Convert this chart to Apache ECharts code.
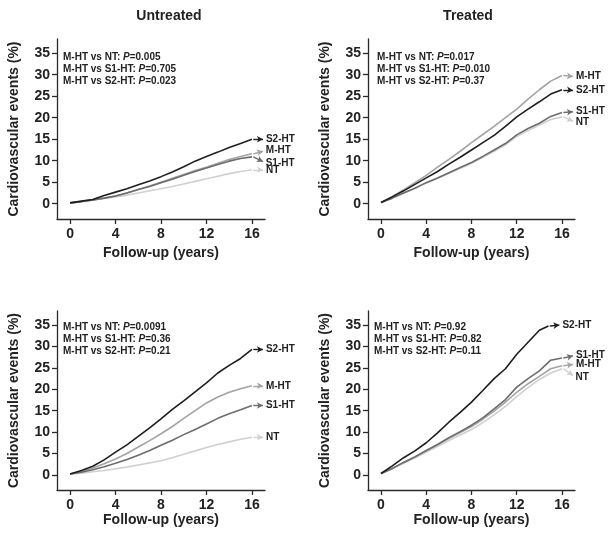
<!DOCTYPE html>
<html>
<head>
<meta charset="utf-8">
<script src="https://cdn.jsdelivr.net/npm/echarts@6/dist/echarts.min.js"></script>
<style>html,body{margin:0;padding:0;background:#fff}#c{width:610px;height:540px}</style>
</head>
<body>
<div id="c"></div>
<script>
// ---------- DATA ----------
const years = [0,1,2,3,4,5,6,7,8,9,10,11,12,13,14,15,16];
const seriesNames = ['NT','M-HT','S1-HT','S2-HT'];
const panelTitles = ['Untreated','Treated'];
const yTicks = [0,5,10,15,20,25,30,35];
const xTicks = [0,4,8,12,16];

// Top-left: Untreated (panel A)
const tlNT  = [0.2,0.4,0.8,1.2,1.6,2.0,2.5,3.0,3.5,4.0,4.6,5.2,5.8,6.4,7.0,7.5,7.9];
const tlMHT = [0.2,0.5,0.9,1.3,1.8,2.5,3.3,4.1,5.0,5.9,6.8,7.7,8.5,9.4,10.3,11.0,11.6];
const tlS1  = [0.2,0.5,0.9,1.3,1.8,2.5,3.3,4.0,4.9,5.7,6.6,7.5,8.3,9.1,9.9,10.5,10.9];
const tlS2  = [0.2,0.6,1.0,1.9,2.7,3.5,4.4,5.3,6.3,7.4,8.6,9.9,11.0,12.0,13.1,14.0,15.0];

// Top-right: Treated (panel A)
const trNT  = [0.3,1.3,2.5,3.6,4.8,5.9,7.0,8.2,9.4,10.8,12.2,13.7,15.6,17.0,18.3,19.6,20.2];
const trMHT = [0.3,1.7,3.2,4.9,6.6,8.5,10.3,12.2,14.2,16.1,18.0,20.0,22.0,24.3,26.5,28.5,29.8];
const trS1  = [0.3,1.3,2.5,3.6,4.9,6.0,7.2,8.4,9.6,11.0,12.5,14.0,16.0,17.5,18.7,20.3,21.2];
const trS2  = [0.3,1.6,3.0,4.5,6.0,7.5,9.2,10.8,12.5,14.2,15.9,18.0,20.2,22.0,23.7,25.5,26.5];

// Bottom-left: Untreated (panel B)
const blNT  = [0.2,0.4,0.7,1.0,1.4,1.8,2.3,2.8,3.3,4.0,4.8,5.6,6.4,7.1,7.7,8.3,8.8];
const blMHT = [0.2,0.8,1.6,2.6,3.7,5.0,6.5,8.0,9.6,11.3,13.2,15.0,16.8,18.2,19.3,20.1,20.8];
const blS1  = [0.2,0.6,1.2,1.9,2.7,3.6,4.6,5.7,6.9,8.1,9.4,10.6,11.9,13.2,14.3,15.2,16.2];
const blS2  = [0.2,1.0,2.0,3.5,5.3,7.0,9.0,11.0,13.1,15.3,17.3,19.4,21.5,23.8,25.6,27.2,29.3];

// Bottom-right: Treated (panel B)
const brNT  = [0.3,1.4,2.7,3.9,5.3,6.6,8.0,9.3,10.6,12.2,14.0,16.0,18.3,20.4,22.3,23.8,24.8];
const brMHT = [0.3,1.5,2.9,4.2,5.6,7.0,8.5,9.9,11.3,13.0,14.9,17.0,19.3,21.3,23.0,24.8,25.5];
const brS1  = [0.3,1.5,2.9,4.2,5.7,7.1,8.7,10.1,11.6,13.3,15.4,17.6,20.5,22.5,24.3,26.8,27.3];
const brS2years = [0,1,2,3,4,5,6,7,8,9,10,11,12,13,14,14.8];
const brS2  = [0.3,2.1,4.0,5.6,7.5,9.8,12.3,14.6,17.0,19.7,22.5,24.8,28.2,31.0,33.8,34.8];

const pvals = [
  ['M-HT vs NT: ','0.005','M-HT vs S1-HT: ','0.705','M-HT vs S2-HT: ','0.023'],
  ['M-HT vs NT: ','0.017','M-HT vs S1-HT: ','0.010','M-HT vs S2-HT: ','0.37'],
  ['M-HT vs NT: ','0.0091','M-HT vs S1-HT: ','0.36','M-HT vs S2-HT: ','0.21'],
  ['M-HT vs NT: ','0.92','M-HT vs S1-HT: ','0.82','M-HT vs S2-HT: ','0.11']
];

// ---------- LAYOUT / STYLE ----------
const colors = {'NT':'#d0d0d0','M-HT':'#a3a3a3','S1-HT':'#6c6c6c','S2-HT':'#1e1e1e'};
const panels = [
  {grid:{left:57,top:39,width:208,height:180}, xGap:27,
   data:[[years,tlNT],[years,tlMHT],[years,tlS1],[years,tlS2]],
   labelY:[7.9,12.2,9.8,15.0], text:{x:63,y:58}},
  {grid:{left:368,top:39,width:207,height:180}, xGap:27,
   data:[[years,trNT],[years,trMHT],[years,trS1],[years,trS2]],
   labelY:[19.2,29.6,21.4,26.4], text:{x:377,y:58}},
  {grid:{left:57,top:311,width:208,height:179}, xGap:22,
   data:[[years,blNT],[years,blMHT],[years,blS1],[years,blS2]],
   labelY:[8.8,20.8,16.2,29.3], text:{x:63,y:328}},
  {grid:{left:368,top:311,width:207,height:179}, xGap:22,
   data:[[years,brNT],[years,brMHT],[years,brS1],[brS2years,brS2]],
   labelY:[23.2,25.8,27.8,35.0], text:{x:374,y:328}}
];

const font = '"Liberation Sans", Arial, sans-serif';
const axisColor = '#2a2a2a';

const option = {
  backgroundColor:'#fff',
  animation:false,
  title:[
    {text:panelTitles[0], left:164, top:4, textAlign:'center',
     textStyle:{fontFamily:font,fontSize:14,fontWeight:'bold',color:'#222'}},
    {text:panelTitles[1], left:463, top:4, textAlign:'center',
     textStyle:{fontFamily:font,fontSize:14,fontWeight:'bold',color:'#222'}}
  ],
  grid:[], xAxis:[], yAxis:[], series:[], graphic:[]
};

panels.forEach((p,i)=>{
  option.grid.push(p.grid);
  option.xAxis.push({
    gridIndex:i, type:'value', min:-1.15, max:17.15,
    name:'Follow-up (years)', nameLocation:'middle', nameGap:p.xGap,
    nameTextStyle:{fontFamily:font,fontSize:14,fontWeight:'bold',color:'#222'},
    axisLine:{show:true,onZero:false,lineStyle:{color:axisColor,width:1.3}},
    axisTick:{show:true,length:5,customValues:xTicks,lineStyle:{color:axisColor,width:1.3}},
    axisLabel:{customValues:xTicks,margin:8,fontFamily:font,fontSize:14,fontWeight:'bold',color:'#222'},
    splitLine:{show:false}
  });
  option.yAxis.push({
    gridIndex:i, type:'value', min:-3.55, max:38.3,
    name:'Cardiovascular events (%)', nameLocation:'middle', nameGap:36, nameRotate:90,
    nameTextStyle:{fontFamily:font,fontSize:14,fontWeight:'bold',color:'#222'},
    axisLine:{show:true,onZero:false,lineStyle:{color:axisColor,width:1.3}},
    axisTick:{show:true,length:5,customValues:yTicks,lineStyle:{color:axisColor,width:1.3}},
    axisLabel:{customValues:yTicks,margin:7,fontFamily:font,fontSize:14,fontWeight:'bold',color:'#222'},
    splitLine:{show:false}
  });
  p.data.forEach((d,k)=>{
    const name = seriesNames[k];
    const xs = d[0], ys = d[1];
    const pts = xs.map((x,j)=>[x,ys[j]]);
    const lastX = xs[xs.length-1], lastY = ys[ys.length-1];
    const ax0 = lastX + 0.12;
    const ax1 = ax0 + 0.85;
    option.series.push({
      type:'line', name:name, xAxisIndex:i, yAxisIndex:i, data:pts,
      showSymbol:false, symbol:'none', z:2+k,
      lineStyle:{color:colors[name],width:1.6},
      markLine:{
        silent:true, symbol:['none','arrow'], symbolSize:[5,6], precision:3,
        lineStyle:{color:colors[name],width:1.4,type:'solid'},
        itemStyle:{color:colors[name]},
        label:{show:true,position:'end',distance:3,formatter:name,
               fontFamily:font,fontSize:10,fontWeight:'bold',color:'#222'},
        data:[[{coord:[ax0,lastY]},{coord:[ax1,p.labelY[k]]}]]
      }
    });
  });
  const t = pvals[i];
  for(let r=0;r<3;r++){
    option.graphic.push({
      type:'text', left:p.text.x, top:p.text.y - 6 + r*12.3,
      style:{
        text:t[r*2]+'{i|P}='+t[r*2+1],
        font:'bold 10px '+font, fill:'#222',
        rich:{i:{fontStyle:'italic',fontWeight:'bold',fontSize:10,fontFamily:font,fill:'#222'}}
      }
    });
  }
});

const chart = echarts.init(document.getElementById('c'),null,{renderer:'canvas'});
chart.setOption(option);
</script>
</body>
</html>
